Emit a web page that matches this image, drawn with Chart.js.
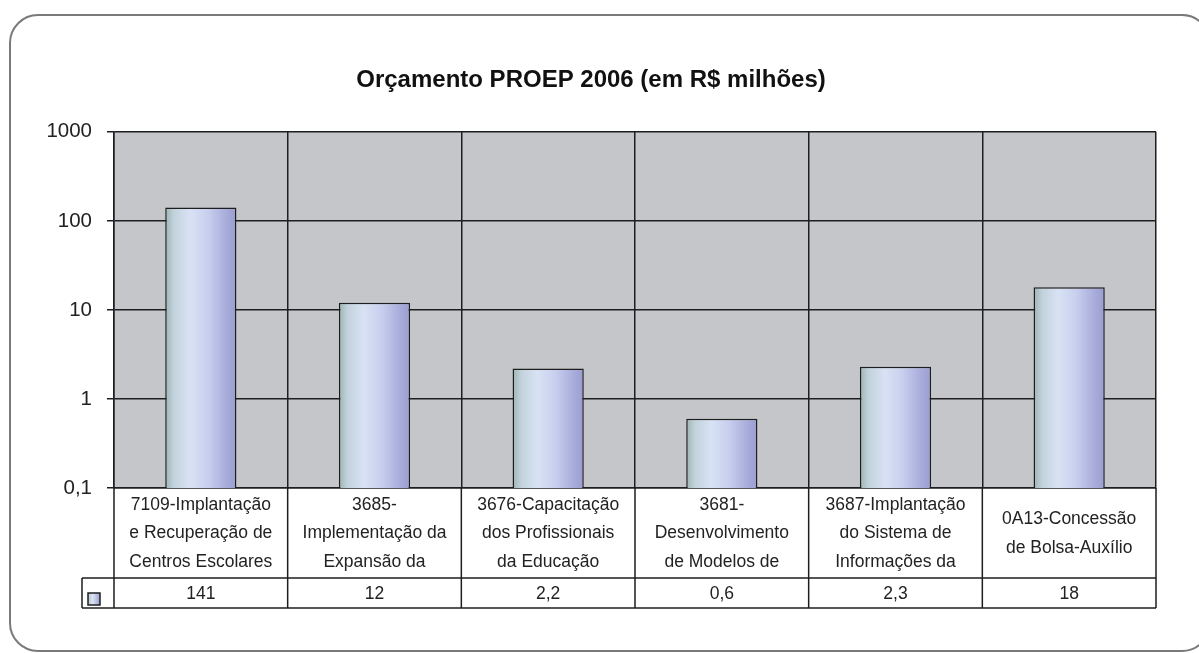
<!DOCTYPE html>
<html>
<head>
<meta charset="utf-8">
<script src="https://cdn.jsdelivr.net/npm/chart.js@4"></script>
<style>
  html, body { margin: 0; padding: 0; background: #fff; }
  #wrap { width: 1199px; height: 653px; }
</style>
</head>
<body>
<div id="wrap"><canvas id="proep" width="1199" height="653"></canvas></div>
<script>
// Data
const categories = [
    ["7109-Implantação", "e Recuperação de", "Centros Escolares"],
    ["3685-", "Implementação da", "Expansão da"],
    ["3676-Capacitação", "dos Profissionais", "da Educação"],
    ["3681-", "Desenvolvimento", "de Modelos de"],
    ["3687-Implantação", "do Sistema de", "Informações da"],
    ["0A13-Concessão", "de Bolsa-Auxílio"],
]
const budgetValues = [141, 12, 2.2, 0.6, 2.3, 18]
const valueLabels = ["141", "12", "2,2", "0,6", "2,3", "18"]
const yTickValues = [0.1, 1, 10, 100, 1000]
const yTickLabels = ["0,1", "1", "10", "100", "1000"]

const FONT = "'Liberation Sans', Arial, sans-serif"
const LINE = '#1e1e1e'

// bar fill: horizontal gradient across each bar
function barGradient(context) {
    const chart = context.chart
    const xs = chart.scales.x
    if (!xs || !chart.chartArea) return '#c8d4ec'
    const colW = xs.width / categories.length
    const w = colW * 0.41
    const cx = xs.getPixelForValue(context.dataIndex)
    const g = chart.ctx.createLinearGradient(cx - w / 2, 0, cx + w / 2, 0)
    g.addColorStop(0, '#9db4b2')
    g.addColorStop(0.12, '#c2d2dc')
    g.addColorStop(0.35, '#d8e2f4')
    g.addColorStop(0.6, '#c8cfee')
    g.addColorStop(0.85, '#a9addb')
    g.addColorStop(1, '#9a9dd0')
    return g
}

// gray plot background + rounded frame
const backdrop = {
    id: 'backdrop',
    beforeDraw(chart) {
        const ctx = chart.ctx
        const a = chart.chartArea
        ctx.save()
        ctx.strokeStyle = '#7a7a7a'
        ctx.lineWidth = 2
        ctx.beginPath()
        ctx.roundRect(10, 15, 1200, 636, 28)
        ctx.stroke()
        ctx.fillStyle = '#c4c6c9'
        ctx.fillRect(a.left, a.top, a.right - a.left, a.bottom - a.top)
        ctx.restore()
    }
}

// data table under the plot
const dataTable = {
    id: 'dataTable',
    afterDraw(chart) {
        const ctx = chart.ctx
        const a = chart.chartArea
        const xs = chart.scales.x
        const colW = (a.right - a.left) / categories.length
        const rowTop = a.bottom
        const rowMid = a.bottom + 90
        const rowBot = rowMid + 30
        const legendLeft = 82

        ctx.save()
        ctx.strokeStyle = LINE
        ctx.lineWidth = 1.5
        ctx.beginPath()
        // verticals
        for (let i = 0; i <= categories.length; i++) {
            const x = a.left + i * colW
            ctx.moveTo(x, rowTop)
            ctx.lineTo(x, rowBot)
        }
        ctx.moveTo(legendLeft, rowMid)
        ctx.lineTo(legendLeft, rowBot)
        // horizontals
        ctx.moveTo(legendLeft, rowMid)
        ctx.lineTo(a.right, rowMid)
        ctx.moveTo(legendLeft, rowBot)
        ctx.lineTo(a.right, rowBot)
        ctx.stroke()

        // category labels
        ctx.fillStyle = '#222'
        ctx.font = '17.5px ' + FONT
        ctx.textAlign = 'center'
        ctx.textBaseline = 'middle'
        categories.forEach(function(lines, i) {
            const cx = xs.getPixelForValue(i)
            const lh = 28.5
            const start = rowTop + 45.5 - (lines.length - 1) * lh / 2
            lines.forEach(function(t, j) {
                ctx.fillText(t, cx, start + j * lh)
            })
        })

        // values row
        valueLabels.forEach(function(t, i) {
            ctx.fillText(t, xs.getPixelForValue(i), rowMid + 16)
        })

        // legend key
        const g = ctx.createLinearGradient(88, 0, 100, 0)
        g.addColorStop(0, '#b7c9d2')
        g.addColorStop(0.4, '#dbe4f5')
        g.addColorStop(1, '#9a9dd0')
        ctx.fillStyle = g
        ctx.fillRect(88, rowMid + 15, 12, 12)
        ctx.lineWidth = 1.5
        ctx.strokeRect(88, rowMid + 15, 12, 12)
        ctx.restore()
    }
}

new Chart('proep', {
    type: 'bar',
    data: {
        labels: categories,
        datasets: [{
            label: 'Orçamento',
            data: budgetValues,
            backgroundColor: barGradient,
            borderColor: LINE,
            borderWidth: 1.5,
            barPercentage: 0.41,
            categoryPercentage: 1,
        }]
    },
    options: {
        responsive: false,
        animation: false,
        layout: { padding: { left: 26, right: 43, top: 0, bottom: 0 } },
        scales: {
            y: {
                type: 'logarithmic',
                min: 0.1,
                max: 1000,
                afterBuildTicks: function(scale) {
                    scale.ticks = yTickValues.map(function(v) { return { value: v } })
                },
                afterFit: function(scale) { scale.width = 88 },
                ticks: {
                    padding: 15,
                    color: '#222',
                    font: { family: FONT, size: 20.5 },
                    callback: function(value) {
                        const i = yTickValues.indexOf(value)
                        return i >= 0 ? yTickLabels[i] : ''
                    }
                },
                grid: { color: LINE, lineWidth: 1.5, tickLength: 7 },
                border: { color: LINE, width: 1.5 },
            },
            x: {
                afterFit: function(scale) { scale.height = 165 },
                ticks: { display: false },
                grid: { color: LINE, lineWidth: 1.5, offset: true, drawTicks: false },
                border: { color: LINE, width: 1.5 },
            },
        },
        plugins: {
            legend: { display: false },
            tooltip: { enabled: false },
            title: {
                display: true,
                text: 'Orçamento PROEP 2006 (em R$ milhões)',
                color: '#111',
                font: { family: FONT, size: 24, weight: 'bold' },
                padding: { top: 66, bottom: 37 },
            },
        },
    },
    plugins: [backdrop, dataTable],
})
</script>
</body>
</html>
